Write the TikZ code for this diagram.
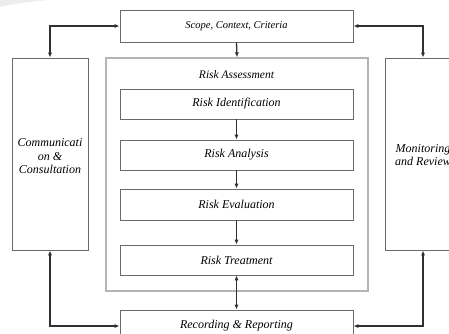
\documentclass[tikz,border=0pt]{standalone}
\usepackage{fontspec}
\setmainfont{Liberation Serif}
\usetikzlibrary{arrows.meta}
\definecolor{boxline}{HTML}{6A6A6A}
\definecolor{outerline}{HTML}{B4B4B4}
\definecolor{linkline}{HTML}{303030}
\tikzset{tip/.tip={Latex[length=5bp,width=4.2bp]}}
\begin{document}
\begin{tikzpicture}[x=1bp,y=-1bp,
  every node/.style={font=\fontsize{12bp}{13.5bp}\selectfont\itshape},
  procbox/.style={draw=boxline,line width=0.9bp,minimum width=233bp,align=center,inner sep=0pt},
  sidebox/.style={draw=boxline,line width=0.9bp,minimum width=76bp,minimum height=192bp,align=center,inner sep=0pt},
  frame/.style={draw=outerline,line width=1.4bp,minimum width=262bp,minimum height=233bp,inner sep=0pt},
  link/.style={draw=linkline,line width=1.3bp,-tip},
  duplink/.style={draw=linkline,line width=1.3bp,tip-tip}]
\useasboundingbox (0,0) rectangle (449,333);
\clip (0,0) rectangle (449,333);
% faint corner mark
\fill[gray!14] (0,0) -- (48,0) .. controls (28,2) and (12,4) .. (0,7) -- cycle;

% main column
\node[procbox,minimum height=32bp,font=\fontsize{10.5bp}{12bp}\selectfont\itshape] (scope) at (236.5,26) {Scope, Context, Criteria};
\node[frame] (assess) at (237,174.5) {};
\node[font=\fontsize{11.5bp}{13bp}\selectfont\itshape] (assesslabel) at (236.5,75) {Risk Assessment};
\node[procbox,minimum height=30bp] (ident) at (236.5,104) {Risk Identification};
\node[procbox,minimum height=30bp] (anal) at (236.5,155) {Risk Analysis};
\node[procbox,minimum height=31bp] (eval) at (236.5,204.5) {Risk Evaluation};
\node[procbox,minimum height=30bp] (treat) at (236.5,260) {Risk Treatment};
\node[procbox,minimum height=32bp] (record) at (236.5,326) {Recording \& Reporting};

% side columns
\node[sidebox] (comm) at (50,154) {};
\node (commtext) at (50,156.5) [align=center] {Communicati\\on \&\\Consultation};
\node[sidebox] (monitor) at (423,154) {};
\node (monitortext) at (423,155) [align=center] {Monitoring\\and Review};

% connectors
\draw[link] (scope.south) -- (assess.north);
\draw[link] (ident) -- (anal);
\draw[link] (anal) -- (eval);
\draw[link] (eval) -- (treat);
\draw[duplink] (treat) -- (record);
\draw[duplink] (scope.west) -| (comm.north);
\draw[duplink] (scope.east) -| (monitor.north);
\draw[duplink] (comm.south) |- (record.west);
\draw[duplink] (monitor.south) |- (record.east);
\end{tikzpicture}
\end{document}
